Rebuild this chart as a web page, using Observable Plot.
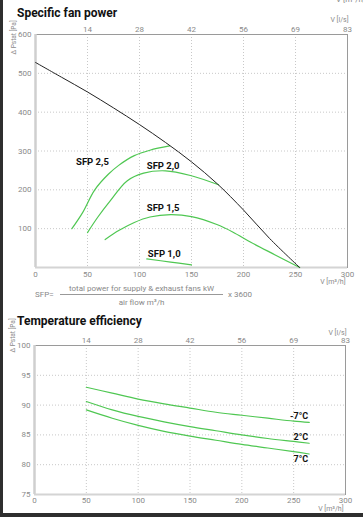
<!DOCTYPE html>
<html><head><meta charset="utf-8">
<script src="https://cdn.jsdelivr.net/npm/d3@7"></script>
<script src="https://cdn.jsdelivr.net/npm/@observablehq/plot@0.6"></script>
<style>
html,body{margin:0;padding:0;}
body{width:363px;height:517px;position:relative;overflow:hidden;background:#fff;font-family:Roboto,sans-serif;}
.abs{position:absolute;white-space:nowrap;}
.title{font-weight:bold;font-size:12px;line-height:12px;color:#111;}
.f{font-size:8px;line-height:8px;color:#888;}
svg{position:absolute;left:0;overflow:visible;}
</style></head><body>
<div class="abs" style="left:0;top:0;width:3px;height:517px;background:#2e2e2e;z-index:10"></div>
<div class="abs" style="left:0;top:513px;width:363px;height:4px;background:#2e2e2e;z-index:10"></div>
<div class="abs f" style="left:336px;top:-4px;">V [m³/h]</div>
<div class="abs title" style="left:17px;top:7px;">Specific fan power</div>
<div class="abs f" style="left:35px;top:291px;">SFP=</div>
<div class="abs f" style="left:60px;top:285px;width:163px;text-align:center;">total power for supply &amp; exhaust fans kW</div>
<div class="abs" style="left:60px;top:294px;width:163px;height:1px;background:#999;"></div>
<div class="abs f" style="left:60px;top:299px;width:163px;text-align:center;">air flow m³/h</div>
<div class="abs f" style="left:228px;top:291px;">x 3600</div>
<div class="abs title" style="left:17px;top:315px;">Temperature efficiency</div>
<div id="c1"></div>
<div id="c2"></div>
<script>
// ---- data ----
const lsTicks = [50, 100, 150, 200, 250, 300];
const lsLabels = ["14", "28", "42", "56", "69", "83"];
const xTicks = [0, 50, 100, 150, 200, 250, 300];
const pTicks = [0, 100, 200, 300, 400, 500, 600];
const effTicks = [75, 80, 85, 90, 95, 100];

const fanV = [0, 25, 50, 75, 100, 125, 150, 175, 200, 225, 254];
const fanP = [528, 490, 452, 411, 368, 322, 272, 215, 148, 75, 0];

const sfp25V = [35, 45, 57, 70, 80, 95, 110, 129];
const sfp25P = [100, 140, 200, 240, 263, 288, 302, 313];
const sfp20V = [50, 60, 72, 88, 104, 125, 149, 176];
const sfp20P = [90, 130, 172, 223, 243, 249, 237, 213];
const sfp15V = [67, 80, 95, 110, 130, 150, 175, 190, 207, 230, 254];
const sfp15P = [72, 95, 116, 130, 136, 131, 110, 91, 65, 33, 0];
const sfp10V = [107, 130, 150];
const sfp10P = [22, 14, 7];

const sfpNames = ["SFP 2,5", "SFP 2,0", "SFP 1,5", "SFP 1,0"];
const sfpLabelV = [39, 107, 107, 108];
const sfpLabelP = [273, 262, 153, 36];

const tempV = [50, 75, 100, 125, 150, 175, 200, 225, 250, 265];
const effM7 = [93.0, 92.0, 91.0, 90.2, 89.5, 88.8, 88.3, 87.8, 87.3, 87.1];
const eff2 = [90.6, 89.2, 88.1, 87.2, 86.4, 85.7, 85.0, 84.4, 83.9, 83.6];
const eff7 = [89.2, 87.8, 86.6, 85.6, 84.8, 84.1, 83.4, 82.8, 82.2, 81.8];
const tempNames = ["-7°C", "2°C", "7°C"];
const tempLabelV = [264, 264, 264];
const tempLabelE = [88.1, 84.6, 80.9];

// ---- helpers ----
const green = "#4fc752";
const tickCol = "#8a8a8a";
const zip = (xs, ys, extra = {}) => xs.map((x, i) => ({x, y: ys[i], ...extra}));
const baseStyle = {fontFamily: "Roboto, sans-serif", fontSize: "8px", color: tickCol, background: "transparent", overflow: "visible"};

// ---- chart 1 ----
const fan = zip(fanV, fanP);
const sfpLines = [
  ...zip(sfp25V, sfp25P, {s: "2,5"}),
  ...zip(sfp20V, sfp20P, {s: "2,0"}),
  ...zip(sfp15V, sfp15P, {s: "1,5"}),
  ...zip(sfp10V, sfp10P, {s: "1,0"})
];
const sfpLbl = sfpNames.map((t, i) => ({t, x: sfpLabelV[i], y: sfpLabelP[i]}));

const p1 = Plot.plot({
  width: 363, height: 285,
  marginLeft: 35, marginRight: 16, marginTop: 22, marginBottom: 30,
  style: baseStyle,
  x: {domain: [0, 300]},
  y: {domain: [0, 600]},
  marks: [
    Plot.ruleX([50, 100, 150, 200, 250], {stroke: "#c8c8c8", strokeDasharray: "1,2"}),
    Plot.ruleY([100, 200, 300, 400, 500], {stroke: "#c8c8c8", strokeDasharray: "1,2"}),
    Plot.frame({stroke: "#9a9a9a", strokeWidth: 1}),
    Plot.ruleX([0], {stroke: "#cfcfcf", strokeWidth: 2.5}),
    Plot.ruleY([0], {stroke: "#d4d4d4", strokeWidth: 2}),
    Plot.axisY({ticks: pTicks.filter(d => d > 0), tickSize: 0, tickPadding: 4, label: null, fill: tickCol}),
    Plot.axisX({ticks: xTicks, tickSize: 0, tickPadding: 4, label: null, fill: tickCol}),
    Plot.axisX({anchor: "top", ticks: lsTicks, tickFormat: d => lsLabels[lsTicks.indexOf(d)], tickSize: 0, tickPadding: 3, label: null, fill: tickCol}),
    Plot.text(["V [l/s]"], {frameAnchor: "top-right", dy: -17, dx: 1, textAnchor: "end", fontSize: 7, fill: tickCol}),
    Plot.text(["V [m³/h]"], {frameAnchor: "bottom-right", dy: 16, dx: -2, textAnchor: "end", fontSize: 7, fill: tickCol}),
    Plot.text(["Δ Pstat [Pa]"], {frameAnchor: "top-left", dx: -24, dy: 20, rotate: -90, fontSize: 6.5, fill: tickCol}),
    Plot.line(sfpLines, {x: "x", y: "y", z: "s", stroke: green, strokeWidth: 1.2, curve: "catmull-rom"}),
    Plot.line(fan, {x: "x", y: "y", stroke: "#222", strokeWidth: 1, curve: "catmull-rom"}),
    Plot.text(sfpLbl, {x: "x", y: "y", text: "t", textAnchor: "start", fontWeight: "bold", fontSize: 9.5, fill: "#111"})
  ]
});
p1.style.top = "12px";
document.getElementById("c1").appendChild(p1);

// ---- chart 2 ----
const tLines = [
  ...zip(tempV, effM7, {s: "-7"}),
  ...zip(tempV, eff2, {s: "2"}),
  ...zip(tempV, eff7, {s: "7"})
];
const tLbl = tempNames.map((t, i) => ({t, x: tempLabelV[i], y: tempLabelE[i]}));

const p2 = Plot.plot({
  width: 363, height: 190,
  marginLeft: 34, marginRight: 18, marginTop: 19, marginBottom: 22,
  style: baseStyle,
  x: {domain: [0, 300]},
  y: {domain: [75, 100]},
  marks: [
    Plot.ruleX([50, 100, 150, 200, 250], {stroke: "#c8c8c8", strokeDasharray: "1,2"}),
    Plot.ruleY([80, 85, 90, 95], {stroke: "#c8c8c8", strokeDasharray: "1,2"}),
    Plot.frame({stroke: "#9a9a9a", strokeWidth: 1}),
    Plot.ruleX([0], {stroke: "#cfcfcf", strokeWidth: 2.5}),
    Plot.ruleY([75], {stroke: "#d4d4d4", strokeWidth: 2}),
    Plot.axisY({ticks: effTicks, tickSize: 0, tickPadding: 4, label: null, fill: tickCol}),
    Plot.axisX({ticks: xTicks, tickSize: 0, tickPadding: 3, label: null, fill: tickCol}),
    Plot.axisX({anchor: "top", ticks: lsTicks, tickFormat: d => lsLabels[lsTicks.indexOf(d)], tickSize: 0, tickPadding: 3, label: null, fill: tickCol}),
    Plot.text(["V [l/s]"], {frameAnchor: "top-right", dy: -15.5, dx: 1, textAnchor: "end", fontSize: 7, fill: tickCol}),
    Plot.text(["V [m³/h]"], {frameAnchor: "bottom-right", dy: 16, dx: -2, textAnchor: "end", fontSize: 7, fill: tickCol}),
    Plot.text(["Δ Pstat [Pa]"], {frameAnchor: "top-left", dx: -24, dy: 7, rotate: -90, fontSize: 6.5, fill: tickCol}),
    Plot.line(tLines, {x: "x", y: "y", z: "s", stroke: green, strokeWidth: 1.2, curve: "catmull-rom"}),
    Plot.text(tLbl, {x: "x", y: "y", text: "t", textAnchor: "end", fontWeight: "bold", fontSize: 9, fill: "#111"})
  ]
});
p2.style.top = "326px";
document.getElementById("c2").appendChild(p2);
</script>
</body></html>
